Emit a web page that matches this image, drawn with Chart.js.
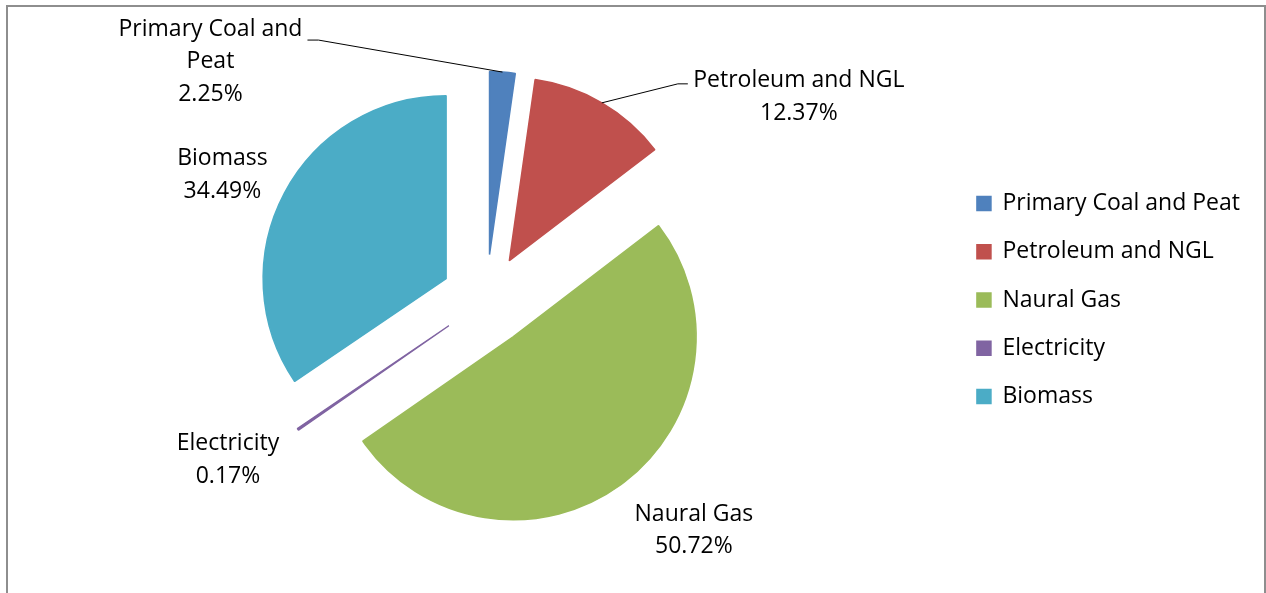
<!DOCTYPE html>
<html>
<head>
<meta charset="utf-8">
<script src="https://cdn.jsdelivr.net/npm/chart.js@4.4.1/dist/chart.umd.min.js"></script>
<style>
  html, body { margin: 0; padding: 0; background: #fff; }
  #wrap { position: relative; width: 1266px; height: 593px; overflow: hidden; }
  #frame { position: absolute; left: 6px; top: 5px; width: 1256px; height: 700px; border: 2px solid #8e8e8e; border-bottom: none; pointer-events: none; }
  canvas { position: absolute; left: 0; top: 0; }
</style>
</head>
<body>
<div id="wrap">
  <canvas id="energyPie" width="1266" height="593"></canvas>
  <div id="frame"></div>
</div>
<script>
const categories = ['Primary Coal and Peat', 'Petroleum and NGL', 'Naural Gas', 'Electricity', 'Biomass'];
const shares = [2.25, 12.37, 50.72, 0.17, 34.49];
const colors = ['#4F81BD', '#C0504D', '#9BBB59', '#8064A2', '#4BACC6'];

Chart.defaults.font.family = "'Open Sans', sans-serif";
Chart.defaults.color = '#000';

// push every slice out from the centre along its middle angle
const explode = {
  id: 'explode',
  afterDatasetUpdate(chart, args, opts) {
    chart.getDatasetMeta(args.index).data.forEach(arc => {
      const mid = (arc.startAngle + arc.endAngle) / 2;
      arc.x += Math.cos(mid) * opts.distance;
      arc.y += Math.sin(mid) * opts.distance;
    });
  }
};

function wrapText(ctx, text, maxWidth) {
  const words = text.split(' ');
  const lines = [];
  let line = '';
  words.forEach(w => {
    const test = line ? line + ' ' + w : w;
    if (line && ctx.measureText(test).width > maxWidth) {
      lines.push(line);
      line = w;
    } else {
      line = test;
    }
  });
  lines.push(line);
  return lines;
}

// category name + percentage outside each slice, with leader lines where needed
const sliceLabels = {
  id: 'sliceLabels',
  afterDatasetsDraw(chart, args, opts) {
    const ctx = chart.ctx;
    const meta = chart.getDatasetMeta(0);
    const values = chart.data.datasets[0].data;
    ctx.save();
    ctx.font = opts.size + 'px ' + Chart.defaults.font.family;
    ctx.fillStyle = '#000';
    ctx.strokeStyle = '#000';
    ctx.lineWidth = 1;
    ctx.textAlign = 'center';
    ctx.textBaseline = 'middle';
    meta.data.forEach((arc, i) => {
      const mid = (arc.startAngle + arc.endAngle) / 2;
      const px = arc.x + Math.cos(mid) * arc.outerRadius;
      const py = arc.y + Math.sin(mid) * arc.outerRadius;
      const p = opts.places[i];
      const lines = wrapText(ctx, chart.data.labels[i], p.wrap || 1000);
      lines.push(values[i].toFixed(2) + '%');
      const cx = px + p.dx;
      const top = py + p.dy - (lines.length - 1) * opts.lineHeight / 2;
      lines.forEach((t, k) => ctx.fillText(t, cx, top + k * opts.lineHeight));
      if (p.leader) {
        ctx.beginPath();
        ctx.moveTo(px, py);
        p.leader.forEach(([lx, ly]) => ctx.lineTo(px + lx, py + ly));
        ctx.stroke();
      }
    });
    ctx.restore();
  }
};

new Chart(document.getElementById('energyPie'), {
  type: 'pie',
  data: {
    labels: categories,
    datasets: [{
      data: shares,
      backgroundColor: colors,
      borderColor: colors,
      borderWidth: 1.5,
      radius: 183
    }]
  },
  options: {
    responsive: false,
    animation: false,
    events: [],
    layout: { padding: { left: 21, right: 16, top: 8, bottom: 1 } },
    plugins: {
      tooltip: { enabled: false },
      legend: {
        position: 'right',
        labels: {
          boxWidth: 14,
          boxHeight: 14,
          padding: 25.3,
          color: '#000',
          font: { size: 23 }
        }
      },
      explode: { distance: 45.5 },
      sliceLabels: {
        size: 23,
        lineHeight: 32.5,
        places: [
          { dx: -292, dy: -10.5, wrap: 200, leader: [[-184, -32], [-195, -32]] },
          { dx: 197, dy: -6, leader: [[76, -19], [86, -19]] },
          { dx: 73, dy: 46 },
          { dx: -70, dy: 30.5 },
          { dx: -62, dy: -18 }
        ]
      }
    }
  },
  plugins: [explode, sliceLabels]
});
</script>
</body>
</html>
